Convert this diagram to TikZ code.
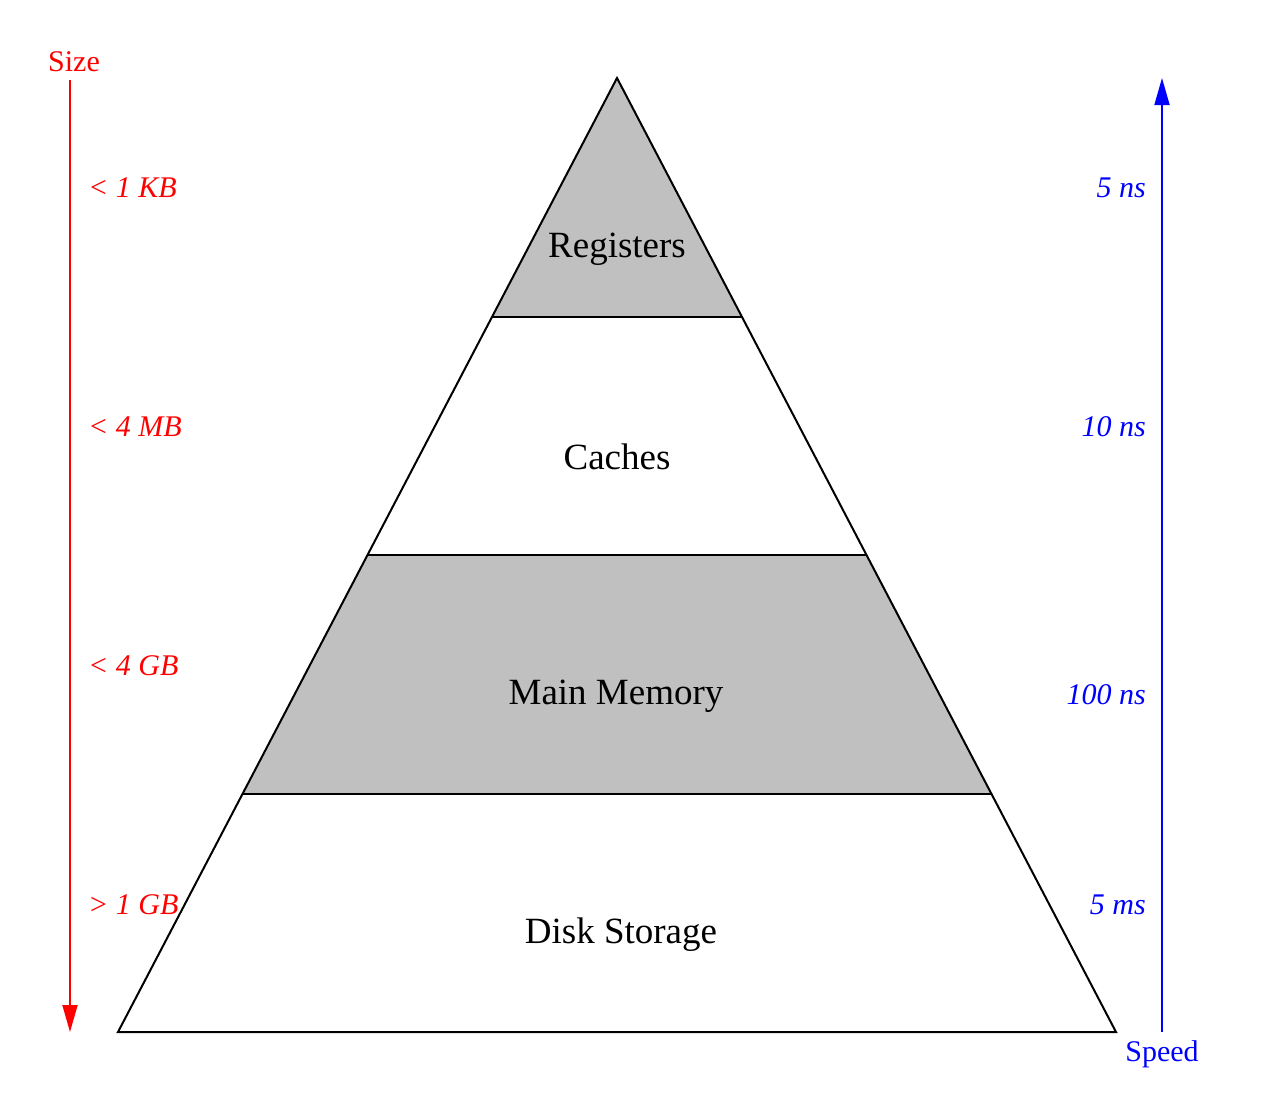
\documentclass[tikz,border=0pt]{standalone}
\usepackage{fontspec}
\setmainfont{Liberation Serif}
\usetikzlibrary{arrows.meta}
\definecolor{bandgray}{RGB}{192,192,192}
\begin{document}
\begin{tikzpicture}[x=1pt,y=-1pt,
  edge/.style={line width=2pt,black,line join=miter},
  band/.style={fill=bandgray},
  mainlabel/.style={font=\fontsize{37}{40}\selectfont,inner sep=0pt},
  sizelabel/.style={red,font=\fontsize{30}{32}\selectfont\itshape,anchor=west,inner sep=0pt},
  speedlabel/.style={blue,font=\fontsize{30}{32}\selectfont\itshape,anchor=east,inner sep=0pt},
  axisname/.style={font=\fontsize{30}{32}\selectfont,inner sep=0pt},
  axisarrow/.style={line width=1.8pt,-{Triangle[length=27pt,width=15pt]}}]
\useasboundingbox (0,0) rectangle (1270,1100);
% triangle corners and band edges
\coordinate (apex) at (617,78);
\coordinate (bl) at (118,1032);
\coordinate (br) at (1116,1032);
\coordinate (l1) at (492,317); \coordinate (r1) at (742,317);
\coordinate (l2) at (368,555); \coordinate (r2) at (866,555);
\coordinate (l3) at (243,794); \coordinate (r3) at (991,794);
% fills
\fill[band] (apex) -- (r1) -- (l1) -- cycle;
\fill[band] (l2) -- (r2) -- (r3) -- (l3) -- cycle;
% outline
\draw[edge] (apex) -- (br) -- (bl) -- cycle;
\draw[line width=1.5pt] (l1) -- (r1);
\draw[line width=1.5pt] (l2) -- (r2);
\draw[line width=1.5pt] (l3) -- (r3);
% labels
\node[mainlabel] (reg) at (617,249) {Registers};
\node[mainlabel] (cache) at (617,457) {Caches};
\node[mainlabel] (mem) at (616,696) {Main Memory};
\node[mainlabel] (disk) at (621,935) {Disk Storage};
% size axis
\node[axisname,red] (size) at (74,62) {Size};
\coordinate (sizestart) at (70,80);
\coordinate (sizeend) at (70,1032);
\draw[axisarrow,red] (sizestart) -- (sizeend);
\node[sizelabel] (s1) at (88,188) {< 1 KB};
\node[sizelabel] (s2) at (88,427) {< 4 MB};
\node[sizelabel] (s3) at (88,666) {< 4 GB};
\node[sizelabel] (s4) at (88,905) {> 1 GB};
% speed axis
\node[axisname,blue] (speed) at (1162,1054) {Speed};
\coordinate (speedstart) at (1162,1032);
\coordinate (speedend) at (1162,78);
\draw[axisarrow,blue] (speedstart) -- (speedend);
\node[speedlabel] (t1) at (1146,188) {5 ns};
\node[speedlabel] (t2) at (1146,427) {10 ns};
\node[speedlabel] (t3) at (1146,695) {100 ns};
\node[speedlabel] (t4) at (1146,905) {5 ms};
\end{tikzpicture}
\end{document}
